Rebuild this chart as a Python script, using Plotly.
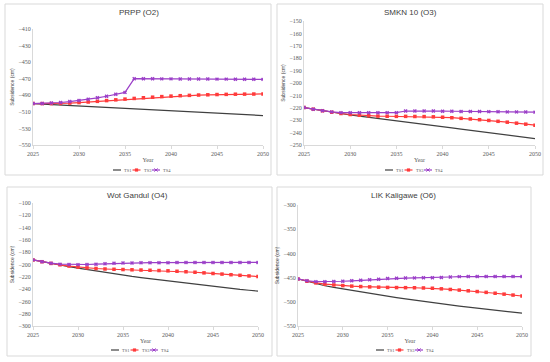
import plotly.graph_objects as go

years = list(range(2025, 2051))

# PRPP (O2)
prpp_ts1 = [-500.0, -500.6, -501.2, -501.8, -502.3, -502.9, -503.5, -504.1, -504.7, -505.2,
            -505.8, -506.4, -507.0, -507.5, -508.1, -508.7, -509.3, -509.8, -510.4, -511.0,
            -511.6, -512.1, -512.7, -513.3, -513.9, -514.5]
prpp_ts3 = [-500.0, -500.0, -500.0, -499.8, -499.4, -498.8, -498.1, -497.3, -496.4, -495.5,
            -494.6, -493.8, -493.0, -492.3, -491.6, -491.0, -490.5, -490.1, -489.7, -489.4,
            -489.1, -488.9, -488.7, -488.6, -488.5, -488.4]
prpp_ts4 = [-500.0, -499.8, -499.4, -498.7, -497.6, -496.3, -494.8, -493.1, -491.2, -488.8,
            -486.5, -470.0, -470.1, -470.1, -470.2, -470.2, -470.3, -470.3, -470.4, -470.4,
            -470.5, -470.5, -470.6, -470.6, -470.7, -470.8]

# SMKN 10 (O3)
smkn_ts1 = [-219.8, -221.1, -222.4, -223.6, -224.7, -225.8, -226.7, -227.6, -228.5, -229.4,
            -230.3, -231.2, -232.2, -233.2, -234.2, -235.2, -236.2, -237.2, -238.2, -239.2,
            -240.2, -241.1, -242.1, -243.0, -244.0, -244.9]
smkn_ts3 = [-219.8, -221.1, -222.4, -223.6, -224.6, -225.4, -226.0, -226.4, -226.7, -226.8,
            -226.9, -226.9, -227.0, -227.1, -227.3, -227.6, -228.0, -228.5, -229.0, -229.6,
            -230.2, -230.9, -231.6, -232.4, -233.2, -234.0]
smkn_ts4 = [-219.8, -221.1, -222.3, -223.3, -223.9, -224.0, -224.0, -224.0, -224.0, -223.9,
            -223.9, -222.6, -222.5, -222.6, -222.6, -222.7, -222.8, -222.9, -222.9, -223.0,
            -223.1, -223.2, -223.3, -223.3, -223.4, -223.5]

# Wot Gandul (O4)
wot_ts1 = [-192.5, -195.6, -198.5, -201.2, -203.7, -206.0, -208.4, -210.7, -213.0, -215.3,
           -217.5, -219.4, -221.3, -223.1, -224.9, -226.7, -228.6, -230.5, -232.4, -234.2,
           -236.0, -237.5, -239.0, -240.5, -241.9, -243.3]
wot_ts3 = [-192.5, -195.5, -198.2, -200.5, -202.5, -204.2, -205.5, -206.5, -207.3, -207.8,
           -208.2, -208.6, -209.0, -209.4, -209.8, -210.3, -211.0, -211.8, -212.6, -213.6,
           -214.6, -215.6, -216.6, -217.6, -218.6, -219.6]
wot_ts4 = [-192.5, -195.4, -197.8, -199.4, -200.0, -200.2, -200.0, -199.5, -198.8, -198.1,
           -197.6, -197.4, -197.2, -197.1, -197.0, -197.0, -196.9, -196.9, -196.8, -196.8,
           -196.8, -196.7, -196.7, -196.7, -196.6, -196.6]

# LIK Kaligawe (O6)
lik_ts1 = [-452.8, -458.0, -462.8, -466.8, -470.3, -473.5, -476.6, -479.7, -482.7, -485.6,
           -488.5, -491.3, -494.0, -496.7, -499.4, -502.0, -504.3, -506.6, -508.8, -510.9,
           -513.0, -515.1, -517.2, -519.3, -521.4, -523.5]
lik_ts3 = [-452.8, -457.5, -461.0, -463.5, -465.2, -466.5, -467.6, -468.5, -469.2, -469.8,
           -470.3, -470.6, -470.8, -471.0, -471.4, -472.0, -473.2, -474.5, -475.8, -477.3,
           -478.8, -480.5, -482.3, -484.2, -486.1, -488.0]
lik_ts4 = [-452.8, -456.5, -458.3, -458.5, -458.2, -457.5, -456.6, -455.6, -454.5, -453.2,
           -452.0, -451.3, -450.9, -450.6, -450.4, -450.2, -449.6, -448.8, -448.0, -447.8,
           -447.8, -447.8, -447.8, -447.8, -447.8, -447.8]

titles = ["PRPP (O2)", "SMKN 10 (O3)", "Wot Gandul (O4)", "LIK Kaligawe (O6)"]
series = [(prpp_ts1, prpp_ts3, prpp_ts4), (smkn_ts1, smkn_ts3, smkn_ts4),
          (wot_ts1, wot_ts3, wot_ts4), (lik_ts1, lik_ts3, lik_ts4)]
yranges = [(-550, -410, 20), (-250, -150, 10), (-300, -100, 20), (-550, -300, 50)]
names = ["TS1", "TS3", "TS4"]

W, H = 550, 362
plot_px = [(33, 263, 29, 145), (304, 535, 21, 145), (33, 258, 203, 326), (298, 522, 205, 326)]
box_px = [(5, 271, 4, 175), (277, 543, 4, 175), (7, 272, 187, 356), (277, 531, 187, 356)]
title_px = [(139, 12), (410, 12), (137, 195), (403, 195)]
legend_px = [(140, 170), (412, 170), (138, 350), (403, 350)]

colors = ["#404040", "#FF3B3B", "#9B3FC8"]
symbols = [None, "square", "x"]

fig = go.Figure()
layout = dict(width=W, height=H, margin=dict(l=0, r=0, t=0, b=0), showlegend=False,
              paper_bgcolor="white", plot_bgcolor="white", shapes=[], annotations=[])

tick_font = dict(family="Liberation Serif", size=6, color="#595959")


def px_x(v):
    return v / W


def px_y(v):
    return 1 - v / H


for i in range(4):
    n = i + 1
    xa = "x" if n == 1 else f"x{n}"
    ya = "y" if n == 1 else f"y{n}"
    for k in range(3):
        vals = series[i][k]
        if symbols[k] is None:
            fig.add_trace(go.Scatter(x=years, y=vals, mode="lines", name=names[k],
                                     line=dict(color=colors[k], width=1.2),
                                     xaxis=xa, yaxis=ya))
        else:
            fig.add_trace(go.Scatter(x=years, y=vals, mode="lines+markers", name=names[k],
                                     line=dict(color=colors[k], width=1.2),
                                     marker=dict(symbol=symbols[k], size=3.5, color=colors[k]),
                                     xaxis=xa, yaxis=ya))

    px0, px1, pyt, pyb = plot_px[i]
    ymin, ymax, dt = yranges[i]
    xkey = "xaxis" if n == 1 else f"xaxis{n}"
    ykey = "yaxis" if n == 1 else f"yaxis{n}"
    layout[xkey] = dict(domain=[px_x(px0), px_x(px1)], range=[2025, 2050], anchor=ya,
                        tick0=2025, dtick=5, showgrid=False, zeroline=False, automargin=False,
                        showline=True, linecolor="#D9D9D9", linewidth=1,
                        ticks="outside", ticklen=3, tickcolor="#D9D9D9",
                        tickfont=tick_font,
                        title=dict(text="Year", font=dict(family="Liberation Serif", size=6, color="#595959"),
                                   standoff=1))
    layout[ykey] = dict(domain=[px_y(pyb), px_y(pyt)], range=[ymin, ymax], anchor=xa,
                        tick0=ymin, dtick=dt, showgrid=False, zeroline=False, automargin=False,
                        showline=True, linecolor="#D9D9D9", linewidth=1,
                        ticks="", tickfont=tick_font,
                        title=dict(text="Subsidence (cm)", font=dict(family="Liberation Sans", size=5, color="#404040"),
                                   standoff=3))
    bx0, bx1, by0, by1 = box_px[i]
    layout["shapes"].append(dict(type="rect", xref="paper", yref="paper",
                                 x0=px_x(bx0), x1=px_x(bx1), y0=px_y(by1), y1=px_y(by0),
                                 line=dict(color="#D9D9D9", width=1), layer="below"))
    tx, ty = title_px[i]
    layout["annotations"].append(dict(text=titles[i], xref="paper", yref="paper",
                                      x=px_x(tx), y=px_y(ty), xanchor="center", yanchor="middle",
                                      showarrow=False,
                                      font=dict(family="Liberation Sans", size=8, color="#404040")))
    # compact Excel-style legend
    lx, ly = legend_px[i]
    for k in range(3):
        x0 = lx - 27 + 19.5 * k
        x1 = x0 + 8
        layout["shapes"].append(dict(type="line", xref="paper", yref="paper",
                                     x0=px_x(x0), x1=px_x(x1), y0=px_y(ly), y1=px_y(ly),
                                     line=dict(color=colors[k], width=1.2)))
        mx = (x0 + x1) / 2
        if symbols[k] == "square":
            layout["shapes"].append(dict(type="rect", xref="paper", yref="paper",
                                         x0=px_x(mx - 1.6), x1=px_x(mx + 1.6),
                                         y0=px_y(ly + 1.6), y1=px_y(ly - 1.6),
                                         fillcolor=colors[k], line=dict(width=0)))
        elif symbols[k] == "x":
            path = (f"M{px_x(mx - 1.6)},{px_y(ly - 1.6)} L{px_x(mx + 1.6)},{px_y(ly + 1.6)} "
                    f"M{px_x(mx - 1.6)},{px_y(ly + 1.6)} L{px_x(mx + 1.6)},{px_y(ly - 1.6)}")
            layout["shapes"].append(dict(type="path", xref="paper", yref="paper", path=path,
                                         line=dict(color=colors[k], width=1)))
        layout["annotations"].append(dict(text=names[k], xref="paper", yref="paper",
                                          x=px_x(x1 + 1.2), y=px_y(ly), xanchor="left", yanchor="middle",
                                          showarrow=False,
                                          font=dict(family="Liberation Serif", size=4.5, color="#595959")))

fig.update_layout(**layout)
fig.write_html("out.html", config={"displayModeBar": False},
               post_script="document.body.style.margin='0';document.body.style.padding='0';")
